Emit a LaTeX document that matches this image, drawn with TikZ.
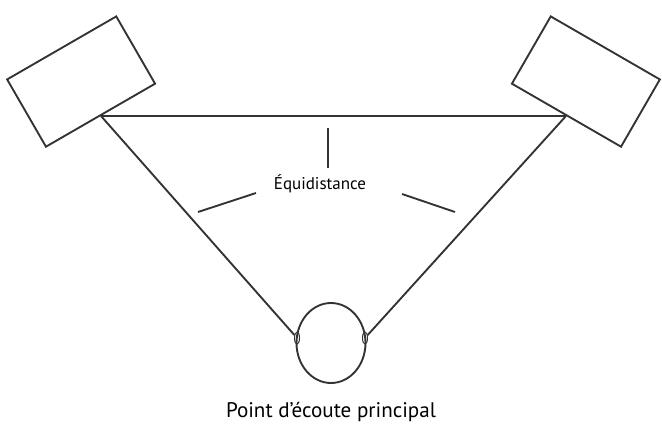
\documentclass[tikz,border=0pt]{standalone}
\usepackage{fontspec}
\setmainfont{PT Sans}
\usetikzlibrary{positioning, shapes.geometric}

\tikzset{
    trait/.style={line width=1.6pt, draw=black!80},
    enceinte/.style={trait, rectangle, minimum width=3.78cm, minimum height=2.33cm, inner sep=0pt},
    oreille/.style={trait, line width=0.9pt, ellipse, minimum width=0.15cm, minimum height=0.36cm, inner sep=0pt}
}

\begin{document}
\begin{tikzpicture}[x=0.03cm, y=0.03cm]
    \useasboundingbox (0,0) rectangle (662,434);

    \coordinate (hpG) at (101,318);
    \coordinate (hpD) at (566,318);
    \node[enceinte, rotate=30, anchor=south] (spkG) at (hpG) {};
    \node[enceinte, rotate=-30, anchor=south] (spkD) at (hpD) {};

    \node[trait, ellipse, minimum width=2.07cm, minimum height=2.4cm, inner sep=0pt] (tete) at (331,91) {};
    \node[oreille] (oreG) at (297,96) {};
    \node[oreille] (oreD) at (365,96) {};

    \node[font=\fontsize{18}{21}\selectfont] (ecoute) at (331,22) {Point d’écoute principal};
    \node[font=\fontsize{14.5}{17}\selectfont] (equi) at (320,250) {Équidistance};

    \draw[trait]
        (hpG) -- (hpD)
        (hpG) -- (oreG)
        (hpD) -- (oreD)
       ;

    % reperes
    \draw[trait] (328,306) -- (328,266);
    \draw[trait] (198,222) -- (256,241);
    \draw[trait] (402,240) -- (455,222);
\end{tikzpicture}
\end{document}
